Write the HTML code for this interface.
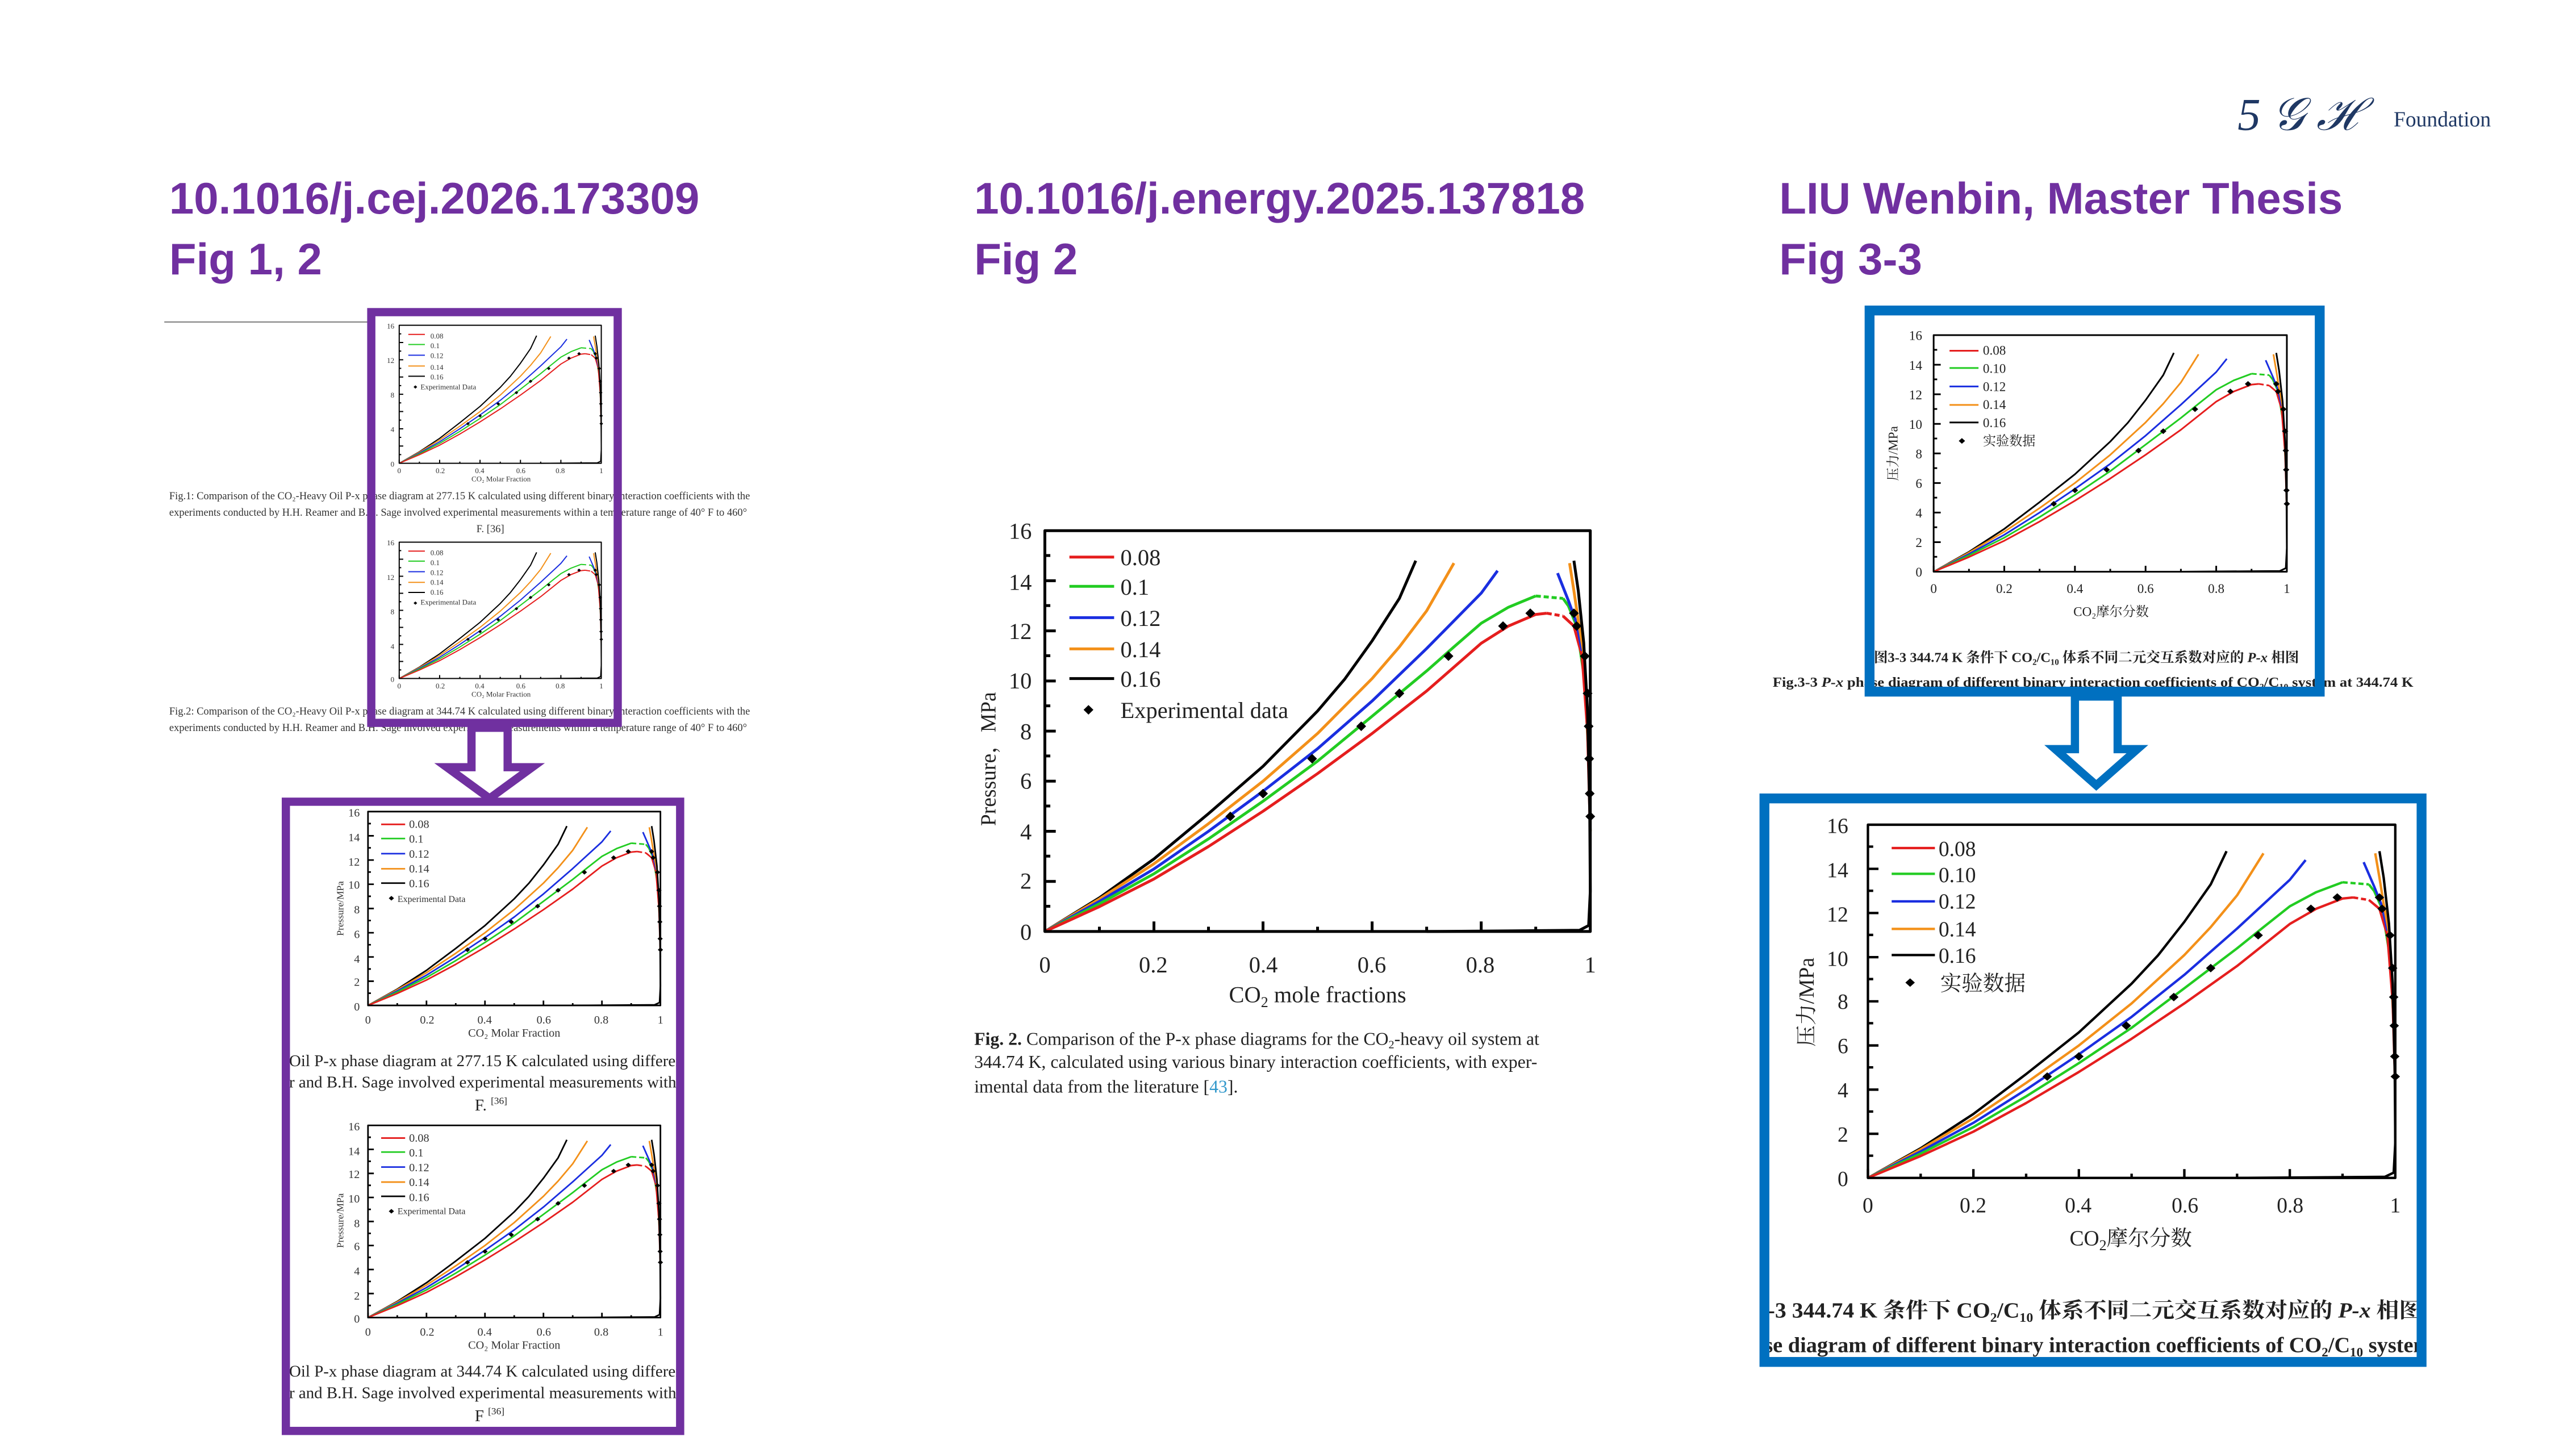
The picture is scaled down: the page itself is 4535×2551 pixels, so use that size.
<!DOCTYPE html>
<html><head><meta charset="utf-8"><style>
html,body{margin:0;padding:0;background:#fff;}
svg{display:block;}
.s{font-family:"Liberation Serif","Noto Serif CJK SC",serif;}
.a{font-family:"Liberation Sans","Noto Sans CJK SC",sans-serif;}
</style></head><body>
<svg width="4535" height="2551" viewBox="0 0 1568 882" preserveAspectRatio="none" xmlns="http://www.w3.org/2000/svg">
<defs>
<g id="curves" fill="none" stroke-linejoin="round">
 <path vector-effect="non-scaling-stroke" stroke="#000" d="M0,1000 L100,916 L200,819 L300,706 L400,588 L500,450 L550,370 L600,275 L650,169 L680,75"/>
 <path vector-effect="non-scaling-stroke" stroke="#f39019" d="M0,1000 L100,919 L200,831 L300,731 L400,625 L500,506 L600,369 L650,290 L700,200 L750,81"/>
 <path vector-effect="non-scaling-stroke" stroke="#1a2ee0" d="M0,1000 L100,925 L200,844 L300,750 L400,650 L500,544 L600,425 L700,294 L800,156 L830,100"/>
 <path vector-effect="non-scaling-stroke" stroke="#22cc22" d="M0,1000 L100,931 L200,856 L300,769 L400,675 L500,575 L600,463 L700,350 L750,290 L800,231 L850,191 L900,163"/>
 <path vector-effect="non-scaling-stroke" stroke="#22cc22" stroke-dasharray="9,5" d="M900,163 L950,169"/>
 <path vector-effect="non-scaling-stroke" stroke="#22cc22" d="M950,169 L960,188 L975,238 L990,375 L997,563 L1000,750"/>
 <path vector-effect="non-scaling-stroke" stroke="#e51e1e" d="M0,1000 L100,938 L200,869 L300,788 L400,700 L500,606 L600,506 L700,400 L800,281 L850,238 L900,209 L920,206"/>
 <path vector-effect="non-scaling-stroke" stroke="#e51e1e" stroke-dasharray="9,5" d="M920,206 L950,213"/>
 <path vector-effect="non-scaling-stroke" stroke="#e51e1e" d="M950,213 L970,238 L985,313 L995,500 L1000,750"/>
 <path vector-effect="non-scaling-stroke" stroke="#1a2ee0" d="M940,106 L960,175 L975,231 L985,300"/>
 <path vector-effect="non-scaling-stroke" stroke="#f39019" d="M962,81 L970,150 L978,225 L990,320"/>
 <path vector-effect="non-scaling-stroke" stroke="#000" d="M970,75 L978,150 L988,280 L995,450 L999,700 L1000,900 L997,985 L980,997 L700,1000"/>
 <g fill="#000" stroke="none">
  <path d="M340,701l9,12l-9,12l-9,-12z M400,644l9,12l-9,12l-9,-12z M490,557l9,12l-9,12l-9,-12z M580,476l9,12l-9,12l-9,-12z M650,394l9,12l-9,12l-9,-12z M740,301l9,12l-9,12l-9,-12z M840,226l9,12l-9,12l-9,-12z M890,194l9,12l-9,12l-9,-12z M970,194l9,12l-9,12l-9,-12z M975,226l9,12l-9,12l-9,-12z M990,301l9,12l-9,12l-9,-12z M995,394l9,12l-9,12l-9,-12z M997,476l9,12l-9,12l-9,-12z M998,557l9,12l-9,12l-9,-12z M999,644l9,12l-9,12l-9,-12z M1000,701l9,12l-9,12l-9,-12z"/>
  <path d="M80,435l9,12l-9,12l-9,-12z"/>
 </g>
 <path vector-effect="non-scaling-stroke" stroke="#e51e1e" d="M45,66H127"/>
 <path vector-effect="non-scaling-stroke" stroke="#22cc22" d="M45,139H127"/>
 <path vector-effect="non-scaling-stroke" stroke="#1a2ee0" d="M45,217H127"/>
 <path vector-effect="non-scaling-stroke" stroke="#f39019" d="M45,295H127"/>
 <path vector-effect="non-scaling-stroke" stroke="#000" d="M45,369H127"/>
 <rect vector-effect="non-scaling-stroke" x="0" y="0" width="1000" height="1000" stroke="#000"/>
 <path vector-effect="non-scaling-stroke" stroke="#000" d="M0,1000v-25M100,1000v-12M200,1000v-25M300,1000v-12M400,1000v-25M500,1000v-12M600,1000v-25M700,1000v-12M800,1000v-25M900,1000v-12M0,875h20M0,750h20M0,625h20M0,500h20M0,375h20M0,250h20M0,125h20M0,937h10M0,812h10M0,687h10M0,562h10M0,437h10M0,312h10M0,187h10M0,62h10"/>
</g>
<clipPath id="cpL"><rect x="175" y="490" width="237" height="380"/></clipPath>
<clipPath id="cpR"><rect x="1076" y="488" width="396" height="339"/></clipPath>
</defs>

<rect width="1568" height="882" fill="#fff"/>

<text x="1362" y="79" class="s" font-style="italic" font-size="28" fill="#1F3864">5 𝒢 ℋ</text>
<text x="1457" y="77" class="s" font-size="13" fill="#1F3864">Foundation</text>

<g class="a" font-weight="bold" font-size="27" fill="#7030A0">
<text x="103" y="130">10.1016/j.cej.2026.173309</text><text x="103" y="167">Fig 1, 2</text>
<text x="593" y="130">10.1016/j.energy.2025.137818</text><text x="593" y="167">Fig 2</text>
<text x="1083" y="130">LIU Wenbin, Master Thesis</text><text x="1083" y="167">Fig 3-3</text>
</g>

<!-- MIDDLE -->
<use href="#curves" transform="translate(636,323) scale(0.332,0.244)" stroke-width="5"/>
<g class="s" font-size="14" fill="#222">
<g text-anchor="end"><text x="628" y="328">16</text><text x="628" y="359">14</text><text x="628" y="389">12</text><text x="628" y="419">10</text><text x="628" y="450">8</text><text x="628" y="480">6</text><text x="628" y="511">4</text><text x="628" y="541">2</text><text x="628" y="572">0</text></g>
<g text-anchor="middle"><text x="636" y="592">0</text><text x="702" y="592">0.2</text><text x="769" y="592">0.4</text><text x="835" y="592">0.6</text><text x="901" y="592">0.8</text><text x="968" y="592">1</text>
<text x="802" y="610">CO<tspan font-size="9" dy="3">2</tspan><tspan dy="-3"> mole fractions</tspan></text></g>
<text transform="translate(606,462) rotate(-90)" text-anchor="middle" font-size="13">Pressure，MPa</text>
<text x="682" y="344">0.08</text><text x="682" y="362">0.1</text><text x="682" y="381">0.12</text><text x="682" y="400">0.14</text><text x="682" y="418">0.16</text><text x="682" y="437">Experimental data</text>
</g>
<g class="s" font-size="11" fill="#222">
<text x="593" y="636"><tspan font-weight="bold">Fig. 2.</tspan> Comparison of the P-x phase diagrams for the CO<tspan font-size="7" dy="2">2</tspan><tspan dy="-2">-heavy oil system at</tspan></text>
<text x="593" y="650">344.74 K, calculated using various binary interaction coefficients, with exper-</text>
<text x="593" y="665">imental data from the literature [<tspan fill="#3399cc">43</tspan>].</text>
</g>

<!-- LEFT -->
<line x1="100" y1="196" x2="225" y2="196" stroke="#888" stroke-width="0.8"/>
<use href="#curves" transform="translate(243,198) scale(0.123,0.084)" stroke-width="2"/>
<use href="#curves" transform="translate(243,330) scale(0.123,0.083)" stroke-width="2"/>
<g class="s" font-size="4.5" fill="#333">
<g text-anchor="end"><text x="240" y="200">16</text><text x="240" y="221">12</text><text x="240" y="242">8</text><text x="240" y="263">4</text><text x="240" y="284">0</text>
<text x="240" y="332">16</text><text x="240" y="353">12</text><text x="240" y="374">8</text><text x="240" y="395">4</text><text x="240" y="415">0</text></g>
<g text-anchor="middle"><text x="243" y="288">0</text><text x="268" y="288">0.2</text><text x="292" y="288">0.4</text><text x="317" y="288">0.6</text><text x="341" y="288">0.8</text><text x="366" y="288">1</text><text x="305" y="293">CO₂ Molar Fraction</text>
<text x="243" y="419">0</text><text x="268" y="419">0.2</text><text x="292" y="419">0.4</text><text x="317" y="419">0.6</text><text x="341" y="419">0.8</text><text x="366" y="419">1</text><text x="305" y="424">CO₂ Molar Fraction</text></g>
<text x="262" y="206">0.08</text><text x="262" y="212">0.1</text><text x="262" y="218">0.12</text><text x="262" y="225">0.14</text><text x="262" y="231">0.16</text><text x="256" y="237">Experimental Data</text>
<text x="262" y="338">0.08</text><text x="262" y="344">0.1</text><text x="262" y="350">0.12</text><text x="262" y="356">0.14</text><text x="262" y="362">0.16</text><text x="256" y="368">Experimental Data</text>
</g>
<g class="s" font-size="6.4" fill="#333">
<text x="103" y="304">Fig.1: Comparison of the CO₂-Heavy Oil P-x phase diagram at 277.15 K calculated using different binary interaction coefficients with the</text>
<text x="103" y="314">experiments conducted by H.H. Reamer and B.H. Sage involved experimental measurements within a temperature range of 40° F to 460°</text>
<text x="290" y="324">F. [36]</text>
<text x="103" y="435">Fig.2: Comparison of the CO₂-Heavy Oil P-x phase diagram at 344.74 K calculated using different binary interaction coefficients with the</text>
<text x="103" y="445">experiments conducted by H.H. Reamer and B.H. Sage involved experimental measurements within a temperature range of 40° F to 460°</text>
<text x="294" y="453">[36]</text>
</g>
<rect x="226" y="190" width="150" height="250" fill="none" stroke="#7030A0" stroke-width="5"/>
<path d="M287,443 H309 V467 H324 L298,486 L272,467 H287 Z" fill="#fff" stroke="#7030A0" stroke-width="5"/>

<use href="#curves" transform="translate(224,494) scale(0.178,0.118)" stroke-width="2.8"/>
<use href="#curves" transform="translate(224,685) scale(0.178,0.117)" stroke-width="2.8"/>
<g class="s" font-size="7" fill="#333">
<g text-anchor="end"><text x="219" y="497">16</text><text x="219" y="512">14</text><text x="219" y="527">12</text><text x="219" y="541">10</text><text x="219" y="556">8</text><text x="219" y="571">6</text><text x="219" y="586">4</text><text x="219" y="600">2</text><text x="219" y="615">0</text>
<text x="219" y="688">16</text><text x="219" y="703">14</text><text x="219" y="717">12</text><text x="219" y="732">10</text><text x="219" y="747">8</text><text x="219" y="761">6</text><text x="219" y="776">4</text><text x="219" y="791">2</text><text x="219" y="805">0</text></g>
<g text-anchor="middle"><text x="224" y="623">0</text><text x="260" y="623">0.2</text><text x="295" y="623">0.4</text><text x="331" y="623">0.6</text><text x="366" y="623">0.8</text><text x="402" y="623">1</text><text x="313" y="631">CO₂ Molar Fraction</text>
<text x="224" y="813">0</text><text x="260" y="813">0.2</text><text x="295" y="813">0.4</text><text x="331" y="813">0.6</text><text x="366" y="813">0.8</text><text x="402" y="813">1</text><text x="313" y="821">CO₂ Molar Fraction</text>
<text transform="translate(209,553) rotate(-90)" font-size="6">Pressure/MPa</text><text transform="translate(209,743) rotate(-90)" font-size="6">Pressure/MPa</text></g>
<text x="249" y="504">0.08</text><text x="249" y="513">0.1</text><text x="249" y="522">0.12</text><text x="249" y="531">0.14</text><text x="249" y="540">0.16</text><text x="242" y="549" font-size="5.5">Experimental Data</text>
<text x="249" y="695">0.08</text><text x="249" y="704">0.1</text><text x="249" y="713">0.12</text><text x="249" y="722">0.14</text><text x="249" y="731">0.16</text><text x="242" y="739" font-size="5.5">Experimental Data</text>
</g>
<g class="s" font-size="10" fill="#222" clip-path="url(#cpL)">
<text x="176" y="649">Oil P-x phase diagram at 277.15 K calculated using different binary</text>
<text x="176" y="662">r and B.H. Sage involved experimental measurements within</text>
<text x="289" y="676">F. <tspan font-size="6" dy="-4">[36]</tspan></text>
<text x="176" y="838">Oil P-x phase diagram at 344.74 K calculated using different binary</text>
<text x="176" y="851">r and B.H. Sage involved experimental measurements within</text>
<text x="289" y="865">F <tspan font-size="6" dy="-4">[36]</tspan></text>
</g>
<rect x="174" y="488" width="240" height="383" fill="none" stroke="#7030A0" stroke-width="5"/>

<!-- RIGHT -->
<use href="#curves" transform="translate(1177,204) scale(0.215,0.144)" stroke-width="3"/>
<g class="s" font-size="8" fill="#222">
<g text-anchor="end"><text x="1170" y="207">16</text><text x="1170" y="225">14</text><text x="1170" y="243">12</text><text x="1170" y="261">10</text><text x="1170" y="279">8</text><text x="1170" y="297">6</text><text x="1170" y="315">4</text><text x="1170" y="333">2</text><text x="1170" y="351">0</text></g>
<g text-anchor="middle"><text x="1177" y="361">0</text><text x="1220" y="361">0.2</text><text x="1263" y="361">0.4</text><text x="1306" y="361">0.6</text><text x="1349" y="361">0.8</text><text x="1392" y="361">1</text><text x="1285" y="375">CO₂摩尔分数</text>
<text transform="translate(1155,276) rotate(-90)">压力/MPa</text></g>
<text x="1207" y="216">0.08</text><text x="1207" y="227">0.10</text><text x="1207" y="238">0.12</text><text x="1207" y="249">0.14</text><text x="1207" y="260">0.16</text><text x="1207" y="271">实验数据</text>
</g>
<g class="s" font-size="8.5" font-weight="bold" fill="#222">
<text x="1270" y="403" text-anchor="middle">图3-3   344.74 K 条件下 CO₂/C₁₀ 体系不同二元交互系数对应的 <tspan font-style="italic">P-x</tspan> 相图</text>
<text x="1079" y="418" textLength="390" lengthAdjust="spacingAndGlyphs">Fig.3-3   <tspan font-style="italic">P-x</tspan> phase diagram of different binary interaction coefficients of CO₂/C₁₀ system at 344.74 K</text>
</g>
<rect x="1138" y="189" width="274" height="232" fill="none" stroke="#0070C0" stroke-width="6"/>
<path d="M1263,424 H1289 V456 H1301 L1276,478 L1251,456 H1263 Z" fill="#fff" stroke="#0070C0" stroke-width="5"/>

<use href="#curves" transform="translate(1137,502) scale(0.321,0.215)" stroke-width="4.3"/>
<g class="s" font-size="13" fill="#222">
<g text-anchor="end"><text x="1125" y="507">16</text><text x="1125" y="534">14</text><text x="1125" y="561">12</text><text x="1125" y="588">10</text><text x="1125" y="614">8</text><text x="1125" y="641">6</text><text x="1125" y="668">4</text><text x="1125" y="695">2</text><text x="1125" y="722">0</text></g>
<g text-anchor="middle"><text x="1137" y="738">0</text><text x="1201" y="738">0.2</text><text x="1265" y="738">0.4</text><text x="1330" y="738">0.6</text><text x="1394" y="738">0.8</text><text x="1458" y="738">1</text>
<text x="1297" y="758">CO<tspan font-size="9" dy="3">2</tspan><tspan dy="-3">摩尔分数</tspan></text>
<text transform="translate(1104,610) rotate(-90)">压力/MPa</text></g>
<text x="1180" y="521">0.08</text><text x="1180" y="537">0.10</text><text x="1180" y="553">0.12</text><text x="1180" y="570">0.14</text><text x="1180" y="586">0.16</text><text x="1181" y="603">实验数据</text>
</g>
<g class="s" font-size="13" font-weight="bold" fill="#222" clip-path="url(#cpR)">
<text x="1069" y="802" textLength="405" lengthAdjust="spacingAndGlyphs">3-3    344.74 K 条件下 CO₂/C₁₀ 体系不同二元交互系数对应的 <tspan font-style="italic">P-x</tspan> 相图</text>
<text x="1060" y="823" textLength="420" lengthAdjust="spacingAndGlyphs">hase diagram of different binary interaction coefficients of CO₂/C₁₀ system</text>
</g>
<rect x="1074" y="486" width="400" height="343" fill="none" stroke="#0070C0" stroke-width="6"/>
</svg>
</body></html>
